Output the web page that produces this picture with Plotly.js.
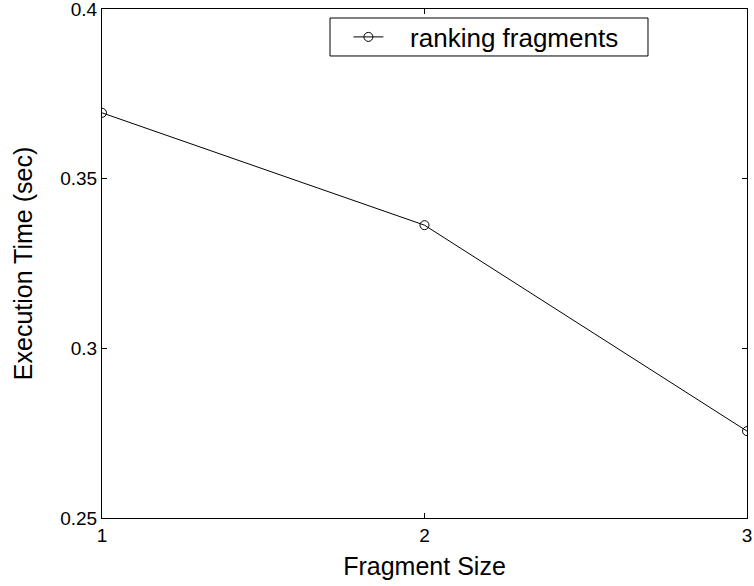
<!DOCTYPE html>
<html>
<head>
<meta charset="utf-8">
<script src="https://cdn.plot.ly/plotly-3.0.1.min.js"></script>
<style>
  html, body { margin: 0; padding: 0; background: #fff; }
  #chart { width: 754px; height: 586px; }
</style>
</head>
<body>
<div id="chart"></div>
<script>
// Execution time measured for each fragment size
const fragmentSizes = [1, 2, 3];
const executionTimes = [0.3694, 0.3363, 0.2756];
const seriesName = 'ranking fragments';
const xTicks = [1, 2, 3];
const yTicks = [0.25, 0.3, 0.35, 0.4];
const yTickText = ['0.25', '0.3', '0.35', '0.4'];

const font = 'Liberation Sans, Arial, sans-serif';
const nbsp = '\u00a0';

const trace = {
  x: fragmentSizes,
  y: executionTimes,
  name: nbsp.repeat(3) + seriesName,
  type: 'scatter',
  mode: 'lines+markers',
  line: { color: '#000', width: 1 },
  marker: { symbol: 'circle-open', size: 9, color: '#000', line: { width: 1, color: '#000' } }
};

const axisCommon = {
  showgrid: false,
  zeroline: false,
  showline: true,
  linecolor: '#000',
  linewidth: 1,
  mirror: 'ticks',
  ticks: 'inside',
  ticklen: 5,
  tickcolor: '#000',
  ticklabeloverflow: 'allow',
  tickfont: { family: font, size: 19, color: '#000' }
};

// Legend frame (paper coordinates), drawn as a shape so it can be snug around the entry
const legendBox = { x0: 0.3535, x1: 0.8465, y0: 0.9077, y1: 0.9823 };

const layout = {
  width: 754,
  height: 586,
  margin: { l: 102, r: 7, t: 9, b: 68 },
  paper_bgcolor: '#fff',
  plot_bgcolor: '#fff',
  font: { family: font, color: '#000' },
  xaxis: Object.assign({}, axisCommon, {
    range: [1, 3],
    tickvals: xTicks,
    ticktext: xTicks.map(String),
    title: { text: 'Fragment Size', font: { family: font, size: 25, color: '#000' }, standoff: 12 }
  }),
  yaxis: Object.assign({}, axisCommon, {
    range: [0.25, 0.4],
    tickvals: yTicks,
    ticktext: yTickText,
    title: { text: 'Execution Time (sec)', font: { family: font, size: 25, color: '#000' }, standoff: 20 }
  }),
  shapes: [{
    type: 'rect', xref: 'paper', yref: 'paper',
    x0: legendBox.x0, x1: legendBox.x1, y0: legendBox.y0, y1: legendBox.y1,
    line: { color: '#000', width: 1 },
    fillcolor: '#fff',
    layer: 'above'
  }],
  showlegend: true,
  legend: {
    x: 0.382, y: (legendBox.y0 + legendBox.y1) / 2, xanchor: 'left', yanchor: 'middle',
    bgcolor: 'rgba(0,0,0,0)',
    borderwidth: 0,
    font: { family: font, size: 26, color: '#000' }
  }
};

Plotly.newPlot('chart', [trace], layout, { displayModeBar: false, staticPlot: true });
</script>
</body>
</html>
